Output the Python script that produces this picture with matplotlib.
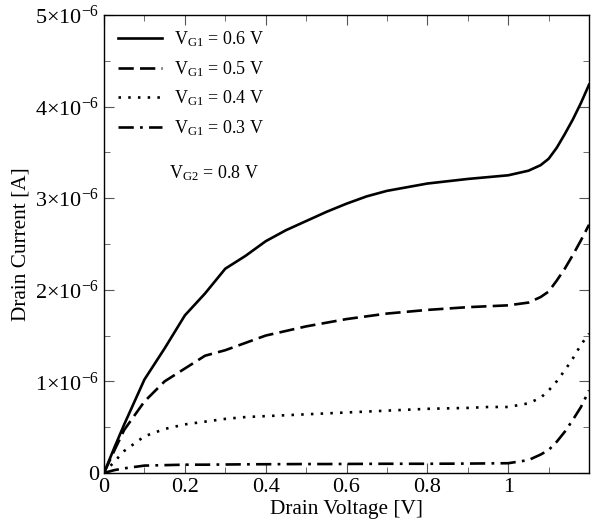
import matplotlib
matplotlib.use("Agg")
from matplotlib import pyplot as plt
from matplotlib.ticker import MultipleLocator

# Drain voltage [V]
vd = [0, 0.025, 0.05, 0.1, 0.15, 0.2, 0.25, 0.3, 0.35, 0.4, 0.45, 0.5, 0.55, 0.6,
      0.65, 0.7, 0.8, 0.9, 0.95, 1.0, 1.05, 1.08, 1.1, 1.12, 1.14, 1.16, 1.18, 1.2]

# Drain current [uA] for each gate-1 voltage
id_06 = [0, 0.27, 0.53, 1.02, 1.36, 1.72, 1.96, 2.23, 2.37, 2.53, 2.65, 2.75, 2.85,
         2.94, 3.02, 3.08, 3.16, 3.21, 3.23, 3.25, 3.30, 3.36, 3.43, 3.55, 3.70,
         3.86, 4.04, 4.24]
id_05 = [0, 0.24, 0.47, 0.78, 1.0, 1.14, 1.28, 1.34, 1.42, 1.5, 1.55, 1.6, 1.64,
         1.68, 1.71, 1.74, 1.78, 1.81, 1.82, 1.83, 1.86, 1.92, 1.98, 2.1, 2.23,
         2.38, 2.54, 2.71]
id_04 = [0, 0.12, 0.24, 0.4, 0.48, 0.53, 0.56, 0.59, 0.61, 0.62, 0.63, 0.64, 0.65,
         0.66, 0.67, 0.68, 0.70, 0.71, 0.72, 0.72, 0.76, 0.82, 0.90, 1.0, 1.12,
         1.25, 1.40, 1.52]
id_03 = [0, 0.03, 0.05, 0.08, 0.085, 0.09, 0.09, 0.092, 0.094, 0.095, 0.096, 0.097,
         0.097, 0.098, 0.099, 0.1, 0.1, 0.102, 0.104, 0.106, 0.14, 0.2, 0.25, 0.34,
         0.45, 0.58, 0.72, 0.9]

labels = [r"V$_{\mathrm{G1}}$ = 0.6 V", r"V$_{\mathrm{G1}}$ = 0.5 V",
          r"V$_{\mathrm{G1}}$ = 0.4 V", r"V$_{\mathrm{G1}}$ = 0.3 V"]
x_ticks = [0, 0.2, 0.4, 0.6, 0.8, 1.0]
x_ticklabels = ["0", "0.2", "0.4", "0.6", "0.8", "1"]
y_ticks = [0, 1e-6, 2e-6, 3e-6, 4e-6, 5e-6]
y_ticklabels = ["0", r"1$\times$10$^{\mathrm{-6}}$", r"2$\times$10$^{\mathrm{-6}}$",
                r"3$\times$10$^{\mathrm{-6}}$", r"4$\times$10$^{\mathrm{-6}}$",
                r"5$\times$10$^{\mathrm{-6}}$"]

plt.rcParams["font.family"] = ["Liberation Serif", "DejaVu Serif"]
plt.rcParams["mathtext.fontset"] = "custom"
plt.rcParams["mathtext.rm"] = "Liberation Serif"
plt.rcParams["mathtext.it"] = "Liberation Serif:italic"
plt.rcParams["lines.scale_dashes"] = False

fig = plt.figure(figsize=(5.92, 5.29), dpi=100)
ax = fig.add_axes([0.1757, 0.106, 0.8193, 0.8656])

styles = [
    dict(linestyle="-"),
    dict(dashes=(11, 4.5)),
    dict(dashes=(1.8, 5.2)),
    dict(dashes=(11, 4.5, 2, 4.5)),
]
for ys, lab, st in zip([id_06, id_05, id_04, id_03], labels, styles):
    ax.plot(vd, [v * 1e-6 for v in ys], color="black", linewidth=1.9, label=lab, **st)

ax.set_xlim(0, 1.2)
ax.set_ylim(0, 5e-6)
ax.set_xticks(x_ticks)
ax.set_xticklabels(x_ticklabels)
ax.set_yticks(y_ticks)
ax.set_yticklabels(y_ticklabels)
ax.xaxis.set_minor_locator(MultipleLocator(0.1))
ax.yaxis.set_minor_locator(MultipleLocator(0.5e-6))
ax.tick_params(which="both", direction="in", top=True, right=True, labelsize=16)
ax.tick_params(which="major", length=7, color="#555555")
ax.tick_params(which="minor", length=4, color="#555555")
for s in ax.spines.values():
    s.set_linewidth(1.0)

ax.set_xlabel("Drain Voltage [V]", fontsize=15.3, labelpad=2)
ax.set_ylabel("Drain Current [A]", fontsize=15.3, labelpad=3)

ax.legend(loc="upper left", frameon=False, fontsize=13, handlelength=2.4,
          labelspacing=0.55, borderaxespad=0.4, handletextpad=0.7)
ax.text(0.135, 0.644, r"V$_{\mathrm{G2}}$ = 0.8 V", transform=ax.transAxes, fontsize=13)

plt.savefig("out.png", dpi=100)
